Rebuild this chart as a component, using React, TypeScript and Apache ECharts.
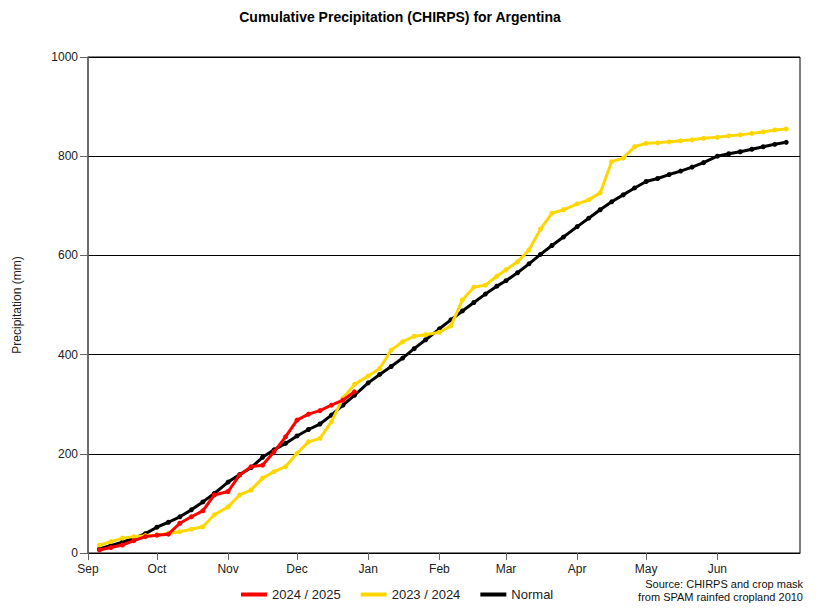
import { useEffect, useRef } from 'react';
import * as echarts from 'echarts';

// Days counted from 1 September (season with a 29-day February)
const monthLabels = ['Sep', 'Oct', 'Nov', 'Dec', 'Jan', 'Feb', 'Mar', 'Apr', 'May', 'Jun'];
const monthStartDays = [0, 30, 61, 91, 122, 153, 182, 213, 243, 274];

// End day of each pentad (6 per month), Sep .. Jun
const pentadDays = [
  5, 10, 15, 20, 25, 30,
  35, 40, 45, 50, 55, 61,
  66, 71, 76, 81, 86, 91,
  96, 101, 106, 111, 116, 122,
  127, 132, 137, 142, 147, 153,
  158, 163, 168, 173, 178, 182,
  187, 192, 197, 202, 207, 213,
  218, 223, 228, 233, 238, 243,
  248, 253, 258, 263, 268, 274,
  279, 284, 289, 294, 299, 304,
];

const season2425 = [
  6, 11, 16, 25, 33, 36,
  38, 60, 73, 85, 117, 124,
  157, 174, 177, 204, 234, 268,
  280, 287, 298, 308, 325,
];

const season2324 = [
  16, 23, 30, 33, 35, 36,
  40, 43, 48, 53, 77, 93,
  117, 127, 151, 164, 174, 201,
  224, 231, 265, 312, 340, 357,
  372, 409, 426, 437, 440, 445,
  458, 510, 536, 540, 558, 571,
  587, 611, 653, 685, 692, 704,
  712, 726, 789, 796, 819, 826,
  827, 829, 831, 833, 836, 838,
  841, 843, 846, 849, 853, 855,
];

const normal = [
  8, 15, 22, 30, 39, 52,
  62, 73, 87, 103, 120, 143,
  158, 172, 193, 208, 221, 236,
  249, 260, 278, 298, 318, 343,
  360, 376, 393, 412, 430, 452,
  470, 488, 505, 522, 538, 549,
  565, 583, 602, 620, 637, 658,
  675, 692, 708, 722, 736, 749,
  755, 763, 770, 778, 787, 800,
  805, 809, 814, 819, 824, 828,
];

const seriesNames = ['2024 / 2025', '2023 / 2024', 'Normal'];
const seriesColors = ['#ff0000', '#ffd700', '#000000'];

const FONT = 'Liberation Sans, Arial, sans-serif';

const toPairs = (vals: number[]) => vals.map((v, i) => [pentadDays[i], v]);

export default function App() {
  const ref = useRef<HTMLDivElement>(null);
  useEffect(() => {
    document.body.style.margin = '0';
    if (!ref.current) return;
    const chart = echarts.init(ref.current, undefined, { renderer: 'svg' });
    const dataSets = [season2425, season2324, normal];
    chart.setOption({
      animation: false,
      backgroundColor: '#ffffff',
      textStyle: { fontFamily: FONT },
      grid: {
        left: 88,
        right: 18,
        top: 57,
        bottom: 61,
        show: true,
        borderColor: '#000',
        borderWidth: 1,
      },
      xAxis: {
        type: 'value',
        min: 0,
        max: 310,
        splitLine: { show: false },
        axisLine: { show: true, lineStyle: { color: '#000', width: 1 } },
        axisTick: {
          show: true,
          customValues: monthStartDays,
          length: 7,
          lineStyle: { color: '#666' },
        },
        axisLabel: {
          customValues: monthStartDays,
          formatter: (v: number) => {
            const i = monthStartDays.indexOf(v);
            return i >= 0 ? monthLabels[i] : '';
          },
          fontSize: 12,
          color: '#222',
          margin: 10,
          fontFamily: FONT,
        },
      },
      yAxis: {
        type: 'value',
        min: 0,
        max: 1000,
        interval: 200,
        axisLine: { show: true, lineStyle: { color: '#666', width: 1.5 } },
        axisTick: { show: true, length: 8, lineStyle: { color: '#666' } },
        splitLine: { show: true, lineStyle: { color: '#000', width: 1 } },
        axisLabel: {
          fontSize: 12,
          color: '#222',
          margin: 10,
          fontFamily: FONT,
          formatter: (v: number) => String(v),
        },
      },
      legend: {
        left: 236,
        top: 583,
        icon: 'rect',
        itemWidth: 26,
        itemHeight: 4,
        itemGap: 20,
        textStyle: { fontSize: 13, color: '#222', fontFamily: FONT },
        data: seriesNames,
      },
      series: dataSets.map((vals, i) => ({
        name: seriesNames[i],
        type: 'line',
        data: toPairs(vals),
        symbol: 'circle',
        symbolSize: 5,
        showAllSymbol: true,
        z: 5 - i,
        lineStyle: { color: seriesColors[i], width: 3 },
        itemStyle: { color: seriesColors[i] },
      })),
      graphic: [
        {
          type: 'text',
          x: 400,
          y: 17,
          style: {
            text: 'Cumulative Precipitation (CHIRPS) for Argentina',
            fontSize: 14,
            fontWeight: 'bold',
            fontFamily: FONT,
            fill: '#000',
            textAlign: 'center',
            textVerticalAlign: 'middle',
          },
        },
        {
          type: 'text',
          x: 17,
          y: 305,
          rotation: Math.PI / 2,
          style: {
            text: 'Precipitation (mm)',
            fontSize: 12,
            fontFamily: FONT,
            fill: '#222',
            textAlign: 'center',
            textVerticalAlign: 'middle',
          },
        },
        {
          type: 'text',
          x: 803,
          y: 584,
          style: {
            text: 'Source: CHIRPS and crop mask',
            fontSize: 11,
            fontFamily: FONT,
            fill: '#111',
            textAlign: 'right',
            textVerticalAlign: 'middle',
          },
        },
        {
          type: 'text',
          x: 803,
          y: 597,
          style: {
            text: 'from SPAM rainfed cropland 2010',
            fontSize: 11,
            fontFamily: FONT,
            fill: '#111',
            textAlign: 'right',
            textVerticalAlign: 'middle',
          },
        },
      ],
    });
    return () => chart.dispose();
  }, []);
  return <div ref={ref} style={{ width: 818, height: 614 }} />;
}
